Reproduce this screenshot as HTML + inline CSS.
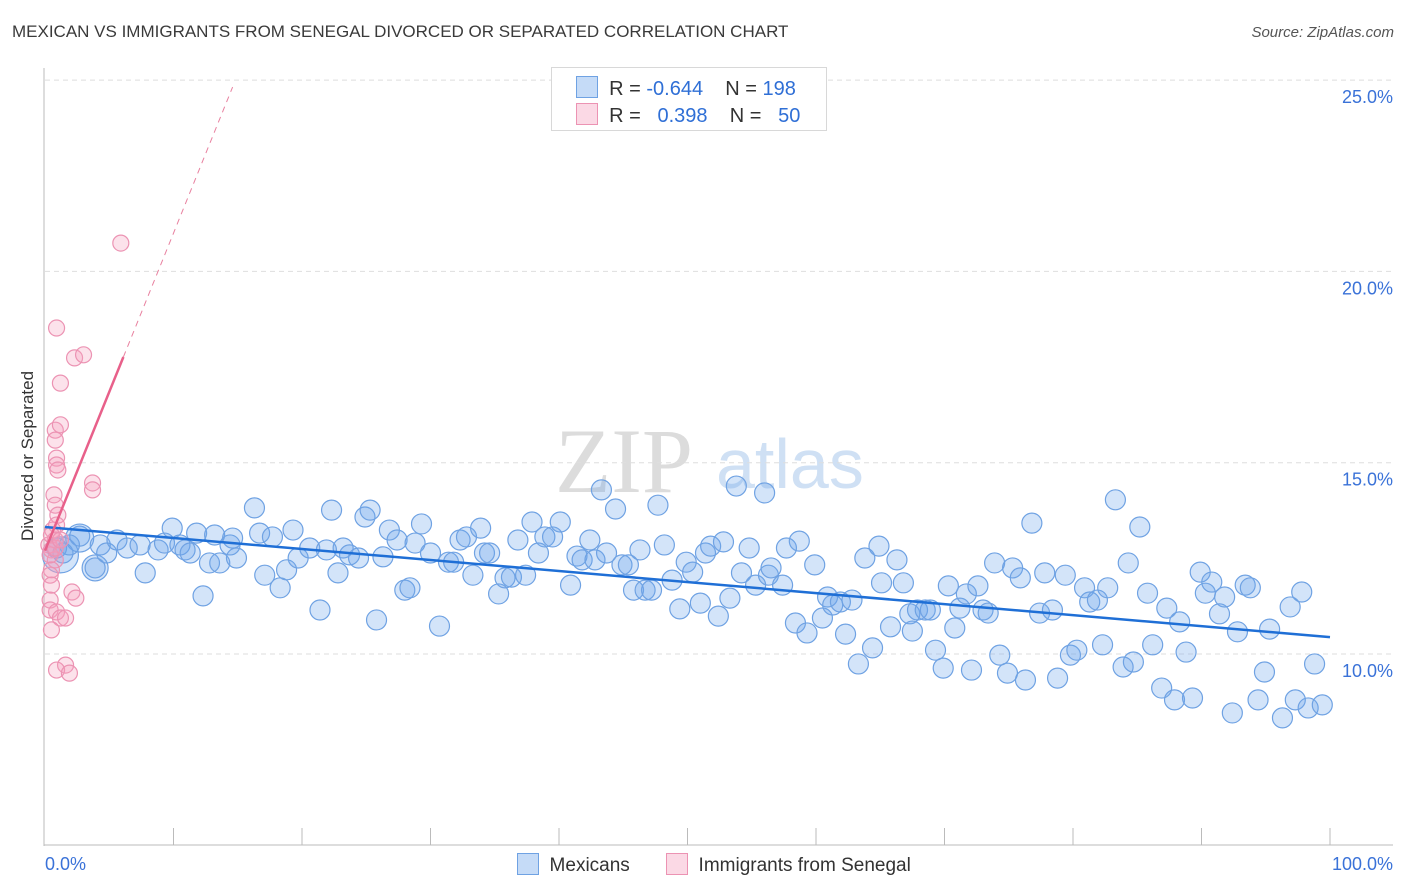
<!DOCTYPE html>
<html><head><meta charset="utf-8"><style>
body{margin:0;background:#fff;font-family:"Liberation Sans",sans-serif;}
#wrap{position:relative;width:1406px;height:892px;overflow:hidden}
.t{position:absolute;white-space:nowrap}
</style></head><body><div id="wrap">
<div class="t" style="left:12px;top:22px;font-size:17px;color:#3a3a3a">MEXICAN VS IMMIGRANTS FROM SENEGAL DIVORCED OR SEPARATED CORRELATION CHART</div>
<div class="t" style="right:12px;top:24px;font-size:15px;color:#555;font-style:italic">Source: ZipAtlas.com</div>
<svg id="svg" width="1406" height="892" style="position:absolute;left:0;top:0"></svg>
</div>
<script>
const blueX=[1.2,2.7,3.9,0.9,1.4,1.9,2.7,3.9,4.3,4.8,5.6,6.4,7.4,7.8,8.8,9.3,9.9,10.5,10.9,11.3,11.8,12.3,12.8,13.2,13.6,14.4,14.6,14.9,16.3,16.7,17.1,17.7,18.3,18.8,19.3,19.7,20.6,21.4,21.9,22.3,22.8,23.2,23.7,24.4,24.9,25.3,25.8,26.3,26.8,27.4,28.0,28.4,28.8,29.3,30.0,30.7,31.4,31.8,32.3,32.8,33.3,33.9,34.2,34.6,35.3,35.8,36.3,36.8,37.4,37.9,38.4,38.9,39.5,40.1,40.9,41.4,41.8,42.4,42.8,43.3,43.7,44.4,44.9,45.4,45.8,46.3,46.7,47.2,47.7,48.2,48.8,49.4,49.9,50.4,51.0,51.4,51.8,52.4,52.8,53.3,53.8,54.2,54.8,55.3,56.0,56.3,56.5,57.4,57.7,58.4,58.7,59.3,59.9,60.5,60.9,61.3,61.9,62.3,62.8,63.3,63.8,64.4,64.9,65.1,65.8,66.3,66.8,67.3,67.5,67.9,68.5,68.9,69.3,69.9,70.3,70.8,71.2,71.7,72.1,72.6,73.0,73.4,73.9,74.3,74.9,75.3,75.9,76.3,76.8,77.4,77.8,78.4,78.8,79.4,79.8,80.3,80.9,81.3,81.9,82.3,82.7,83.3,83.9,84.3,84.7,85.2,85.8,86.2,86.9,87.3,87.9,88.3,88.8,89.3,89.9,90.3,90.8,91.4,91.8,92.4,92.8,93.4,93.8,94.4,94.9,95.3,96.3,96.9,97.3,97.8,98.3,98.8,99.4];
const blueY=[12.59,13.03,12.25,12.77,12.64,12.85,13.08,12.25,12.85,12.64,12.98,12.77,12.85,12.12,12.72,12.90,13.29,12.85,12.72,12.64,13.16,11.52,12.38,13.11,12.38,12.85,13.03,12.51,13.82,13.16,12.06,13.06,11.73,12.20,13.24,12.51,12.77,11.15,12.72,13.76,12.12,12.77,12.59,12.51,13.58,13.76,10.89,12.54,13.24,12.98,11.67,11.73,12.90,13.40,12.64,10.73,12.40,12.40,12.98,13.06,12.06,13.29,12.64,12.64,11.57,11.99,12.01,12.98,12.06,13.45,12.64,13.06,13.06,13.45,11.80,12.56,12.46,12.98,12.46,14.29,12.64,13.79,12.33,12.33,11.67,12.72,11.67,11.67,13.89,12.85,11.93,11.18,12.40,12.14,11.33,12.64,12.82,10.99,12.93,11.46,14.39,12.12,12.77,11.80,14.21,12.06,12.25,11.80,12.77,10.81,12.95,10.55,12.33,10.94,11.49,11.28,11.36,10.52,11.41,9.74,12.51,10.16,12.82,11.86,10.71,12.46,11.86,11.05,10.60,11.15,11.15,11.15,10.10,9.63,11.78,10.68,11.20,11.57,9.58,11.78,11.15,11.07,12.38,9.97,9.50,12.25,11.99,9.32,13.42,11.07,12.12,11.15,9.37,12.06,9.97,10.10,11.73,11.36,11.41,10.24,11.73,14.03,9.66,12.38,9.79,13.32,11.59,10.24,9.11,11.20,8.80,10.84,10.05,8.85,12.14,11.59,11.88,11.05,11.49,8.46,10.58,11.80,11.73,8.80,9.53,10.65,8.33,11.23,8.80,11.62,8.59,9.74,8.67];
const pinkX=[5.9,0.9,2.3,3.0,1.2,0.8,1.2,0.8,0.9,0.9,1.0,3.7,3.7,0.7,0.8,1.0,0.9,0.6,0.8,0.5,0.8,0.5,0.4,0.5,0.4,0.4,2.1,2.4,0.9,1.2,1.6,0.5,1.6,0.9,1.9,0.3,0.4,0.5,0.8,1.2];
const pinkY=[20.74,18.52,17.74,17.82,17.08,15.85,15.99,15.59,15.12,14.94,14.81,14.47,14.29,14.16,13.89,13.63,13.37,13.24,12.98,12.72,12.46,12.20,12.06,11.80,11.41,11.15,11.62,11.46,11.10,10.94,10.94,10.63,9.71,9.58,9.50,12.85,12.59,13.11,12.77,12.98];
const yTicks=[10,15,20,25];
const blueTrend=[13.32,10.44]; // y at x=0 and x=100
const pinkTrend=[12.7,0.83]; // intercept, slope
const X=v=>45+v*12.85, Y=v=>654-(v-10)*38.26;
const svg=document.getElementById('svg');const NS='http://www.w3.org/2000/svg';
function mk(t,a,p){const e=document.createElementNS(NS,t);for(const k in a)e.setAttribute(k,a[k]);(p||svg).appendChild(e);return e;}
// watermark
let w=mk('text',{x:555,y:492,'font-size':92,fill:'#dcdcdc','font-family':'Liberation Serif'});w.textContent='ZIP';


let w2=mk('text',{x:716,y:488,'font-size':70,fill:'#cfe0f4','font-family':'Liberation Sans'});w2.textContent='atlas';


yTicks.forEach(v=>{
 const g=mk('line',{x1:45,x2:1393,y1:Y(v),y2:Y(v),stroke:'#dedede','stroke-dasharray':'5,4'});
 
 
 const t=mk('text',{x:1393,y:Y(v)+23,'text-anchor':'end','font-size':18,fill:'#3a72d8'});t.textContent=v.toFixed(1)+'%';
 
 
});
let a=mk('line',{x1:44,x2:44,y1:68,y2:846,stroke:'#bbb'});
let b=mk('line',{x1:44,x2:1393,y1:845,y2:845,stroke:'#bbb'});
for(let i=1;i<=10;i++){const t=mk('line',{x1:X(i*10),x2:X(i*10),y1:828,y2:845,stroke:'#bbb'});}
const xl=[[0,'0.0%','start',45],[100,'100.0%','end',1393]];
xl.forEach(d=>{const t=mk('text',{x:d[3],y:870,'text-anchor':d[2],'font-size':18,fill:'#3a72d8'});t.textContent=d[1];});
let yt=mk('text',{x:0,y:0,'font-size':17,fill:'#333',transform:'translate(33,456) rotate(-90)','text-anchor':'middle'});yt.textContent='Divorced or Separated';

blueX.forEach((x,i)=>{const r=i==0?18:i==1?14:i==2?13:10;
 const c=mk('circle',{cx:X(x),cy:Y(blueY[i]),r:r,fill:'rgba(110,165,235,0.3)',stroke:'#6fa2e3','stroke-width':1.2});
 
 });
pinkX.forEach((x,i)=>{
 const c=mk('circle',{cx:X(x),cy:Y(pinkY[i]),r:8,fill:'rgba(245,160,190,0.3)',stroke:'#ec93b3','stroke-width':1.2});
 
 });
let bl=mk('line',{x1:X(0),y1:Y(blueTrend[0]),x2:X(100),y2:Y(blueTrend[1]),stroke:'#1f6fd6','stroke-width':2.5});

let pl=mk('line',{x1:X(0),y1:Y(pinkTrend[0]),x2:X(6.1),y2:Y(pinkTrend[0]+pinkTrend[1]*6.1),stroke:'#e8608a','stroke-width':2.5});

let pd=mk('line',{x1:X(6.1),y1:Y(pinkTrend[0]+pinkTrend[1]*6.1),x2:X(14.6),y2:Y(pinkTrend[0]+pinkTrend[1]*14.6),stroke:'#e8809f','stroke-width':1,'stroke-dasharray':'6,5'});

</script>
<div class="t" style="left:551px;top:67px;width:274px;height:62px;border:1px solid #d8d8d8;background:#fff;font-size:20px;color:#333">
 <div style="position:absolute;left:24px;top:8px"><span style="display:inline-block;width:20px;height:20px;background:rgba(110,165,235,0.4);border:1px solid #6fa2e3;vertical-align:-3px"></span>&nbsp; R = <span style="color:#2f6fd6">-0.644</span>&nbsp;&nbsp;&nbsp; N = <span style="color:#2f6fd6">198</span></div>
 <div style="position:absolute;left:24px;top:35px"><span style="display:inline-block;width:20px;height:20px;background:rgba(245,160,190,0.4);border:1px solid #ec93b3;vertical-align:-3px"></span>&nbsp; R = &nbsp; <span style="color:#2f6fd6">0.398</span>&nbsp;&nbsp;&nbsp; N = &nbsp; <span style="color:#2f6fd6">50</span></div>
</div>
<div class="t" style="left:517px;top:853px;font-size:19px;color:#333"><span style="display:inline-block;width:20px;height:20px;background:rgba(110,165,235,0.4);border:1px solid #6fa2e3;vertical-align:-4px"></span>&nbsp; Mexicans</div>
<div class="t" style="left:666px;top:853px;font-size:19px;color:#333"><span style="display:inline-block;width:20px;height:20px;background:rgba(245,160,190,0.4);border:1px solid #ec93b3;vertical-align:-4px"></span>&nbsp; Immigrants from Senegal</div>
</body></html>
